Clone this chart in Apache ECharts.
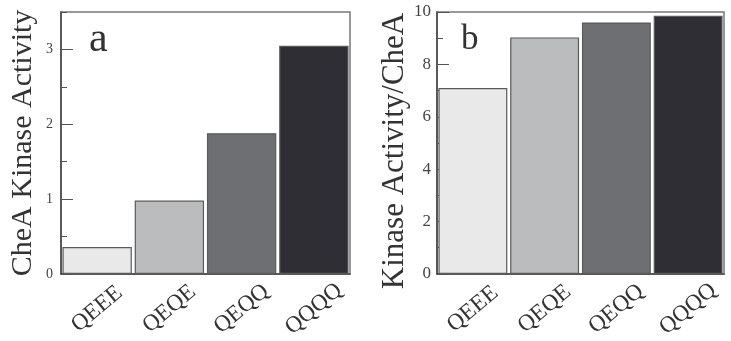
<!DOCTYPE html>
<html>
<head>
<meta charset="UTF-8">
<title>CheA kinase activity</title>
<style>
    body { margin: 0; padding: 0; background: #ffffff; overflow: hidden; }
    #main_chart { width: 731px; height: 341px; }
</style>
</head>
<body>
<div id="main_chart"></div>
<script src="https://cdn.jsdelivr.net/npm/echarts@6/dist/echarts.min.js"></script>
<script>
// data
var categories = ['QEEE', 'QEQE', 'QEQQ', 'QQQQ'];
var kinaseActivity = [0.36, 0.98, 1.88, 3.05];
var activityPerCheA = [7.1, 9.03, 9.6, 9.86];
var barColors = ['#e9e9e9', '#bbbcbd', '#6e6f72', '#2e2e34'];

var serif = '"Liberation Serif", "DejaVu Serif", serif';

function barData(values) {
    return values.map(function (v, i) {
        return { value: v, itemStyle: { color: barColors[i] } };
    });
}

var xAxisCommon = {
    type: 'category',
    data: categories,
    axisLine: { lineStyle: { color: '#444', width: 1.5 } },
    axisTick: { show: false },
    axisLabel: {
        rotate: 40, align: 'center', verticalAlign: 'middle', margin: 35,
        fontFamily: serif, fontSize: 23, color: '#333'
    }
};

var dom = document.getElementById('main_chart');
var chart = echarts.init(dom);

var option = {
    animation: false,
    title: [
        { text: 'a', left: 89, top: 19, padding: 0,
          textStyle: { fontFamily: serif, fontSize: 42, fontWeight: 'normal', color: '#333' } },
        { text: 'b', left: 461, top: 22, padding: 0,
          textStyle: { fontFamily: serif, fontSize: 35, fontWeight: 'normal', color: '#333' } }
    ],
    grid: [
        { left: 61, top: 12, width: 289, height: 270, show: true, borderColor: '#777', borderWidth: 1.5 },
        { left: 437, top: 12, width: 287, height: 270, show: true, borderColor: '#777', borderWidth: 1.5 }
    ],
    xAxis: [
        Object.assign({ gridIndex: 0 }, xAxisCommon),
        Object.assign({ gridIndex: 1 }, xAxisCommon)
    ],
    yAxis: [
        {
            gridIndex: 0, type: 'value', position: 'left', min: 0, max: 3.5, interval: 1,
            name: 'CheA Kinase Activity', nameLocation: 'middle', nameGap: 23,
            nameTextStyle: { fontFamily: serif, fontSize: 30, color: '#333' },
            axisLine: { show: true, lineStyle: { color: '#444', width: 1.5 } },
            axisTick: { show: true, inside: true, length: 12, lineStyle: { color: '#555' } },
            axisLabel: { fontFamily: serif, fontSize: 14, color: '#444', margin: 8, showMaxLabel: false },
            splitLine: { show: false }
        },
        {
            // minor ticks for panel a
            gridIndex: 0, type: 'value', position: 'left', min: 0, max: 3.5, interval: 0.5,
            axisLine: { show: false },
            axisTick: { show: true, inside: true, length: 6, lineStyle: { color: '#555' } },
            axisLabel: { show: false },
            splitLine: { show: false }
        },
        {
            gridIndex: 1, type: 'value', min: 0, max: 10, interval: 2,
            name: 'Kinase Activity/CheA', nameLocation: 'middle', nameGap: 20,
            nameTextStyle: { fontFamily: serif, fontSize: 31, color: '#333', padding: [0, 16, 0, 0] },
            axisLine: { show: true, lineStyle: { color: '#444', width: 1.5 } },
            axisTick: { show: true, inside: true, length: 12, lineStyle: { color: '#555' } },
            minorTick: { show: true, splitNumber: 2, length: 6, lineStyle: { color: '#555' } },
            axisLabel: { fontFamily: serif, fontSize: 17, color: '#444', margin: 6 },
            splitLine: { show: false }
        }
    ],
    series: [
        {
            type: 'bar', xAxisIndex: 0, yAxisIndex: 0,
            data: barData(kinaseActivity),
            barCategoryGap: '4%',
            itemStyle: { borderColor: '#5a5a5a', borderWidth: 1.2 }
        },
        {
            type: 'bar', xAxisIndex: 1, yAxisIndex: 2,
            data: barData(activityPerCheA),
            barCategoryGap: '4%',
            itemStyle: { borderColor: '#5a5a5a', borderWidth: 1.2 }
        }
    ]
};

chart.setOption(option);
window.addEventListener('resize', chart.resize);
</script>
</body>
</html>
